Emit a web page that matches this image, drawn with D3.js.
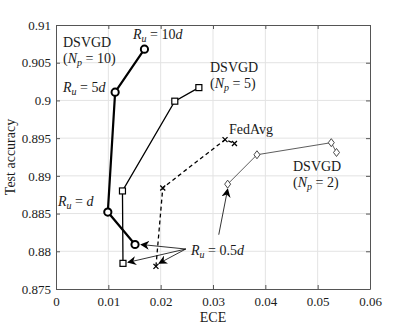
<!DOCTYPE html>
<html>
<head>
<meta charset="utf-8">
<script src="https://cdn.jsdelivr.net/npm/d3@7"></script>
<style>
  body { margin: 0; background: #fff; }
</style>
</head>
<body>
<svg id="chart"></svg>
<script>
// R_u settings for each series: 0.5d, d, 5d, 10d
const ruLabels = ["0.5d", "d", "5d", "10d"];

const eceNp10 = [0.0151, 0.0099, 0.0113, 0.0169];
const accNp10 = [0.8809, 0.8852, 0.9011, 0.9068];

const eceNp5 = [0.0128, 0.0127, 0.0227, 0.0273];
const accNp5 = [0.8784, 0.8880, 0.8999, 0.9017];

const eceFedAvg = [0.0191, 0.0204, 0.0323, 0.0341];
const accFedAvg = [0.8780, 0.8884, 0.8948, 0.8943];

const eceNp2 = [0.0328, 0.0384, 0.0526, 0.0536];
const accNp2 = [0.8889, 0.8928, 0.8944, 0.8931];

const xTicks = [0, 0.01, 0.02, 0.03, 0.04, 0.05, 0.06];
const yTicks = [0.875, 0.88, 0.885, 0.89, 0.895, 0.9, 0.905, 0.91];

const FONT = "'Liberation Serif', 'DejaVu Serif', serif";
const width = 409, height = 328;
const margin = { top: 25, right: 39, bottom: 39, left: 56 };
const innerWidth = width - margin.left - margin.right;
const innerHeight = height - margin.top - margin.bottom;

const svg = d3.select("#chart").attr("width", width).attr("height", height)
    .attr("font-family", FONT);
svg.append("defs").append("marker")
    .attr("id", "arrow")
    .attr("viewBox", "0 0 10 10")
    .attr("refX", 9).attr("refY", 5)
    .attr("markerWidth", 9).attr("markerHeight", 9)
    .attr("markerUnits", "userSpaceOnUse")
    .attr("orient", "auto")
    .append("path")
    .attr("d", "M0,0 L10,5 L0,10 L3,5 Z")
    .attr("fill", "#000");

const g = svg.append("g").attr("transform", `translate(${margin.left},${margin.top})`);

const x = d3.scaleLinear().domain([0, 0.06]).range([0, innerWidth]);
const y = d3.scaleLinear().domain([0.875, 0.91]).range([innerHeight, 0]);

// grid
g.append("g").selectAll("line").data(xTicks.slice(1, -1)).join("line")
    .attr("x1", d => x(d)).attr("x2", d => x(d))
    .attr("y1", 0).attr("y2", innerHeight)
    .attr("stroke", "#e3e3e3").attr("stroke-width", 1);
g.append("g").selectAll("line").data(yTicks.slice(1, -1)).join("line")
    .attr("y1", d => y(d)).attr("y2", d => y(d))
    .attr("x1", 0).attr("x2", innerWidth)
    .attr("stroke", "#e3e3e3").attr("stroke-width", 1);

// axes (ticks pointing inward, box on all sides)
const fmt = d => String(+d.toFixed(3));
const axisStyle = sel => {
    sel.attr("font-family", FONT).attr("font-size", 13);
    sel.select(".domain").attr("stroke", "#555");
    sel.selectAll(".tick line").attr("stroke", "#555");
    sel.selectAll(".tick text").attr("fill", "#1a1a1a");
};
g.append("g").attr("transform", `translate(0,${innerHeight})`)
    .call(d3.axisBottom(x).tickValues(xTicks).tickFormat(fmt).tickSizeInner(-4).tickSizeOuter(0).tickPadding(8))
    .call(axisStyle);
g.append("g")
    .call(d3.axisLeft(y).tickValues(yTicks).tickFormat(fmt).tickSizeInner(-4).tickSizeOuter(0).tickPadding(5))
    .call(axisStyle);
g.append("g")
    .call(d3.axisTop(x).tickValues(xTicks).tickFormat("").tickSizeInner(-4).tickSizeOuter(0))
    .call(axisStyle);
g.append("g").attr("transform", `translate(${innerWidth},0)`)
    .call(d3.axisRight(y).tickValues(yTicks).tickFormat("").tickSizeInner(-4).tickSizeOuter(0))
    .call(axisStyle);

// series
const series = [
    { name: "np10", ece: eceNp10, acc: accNp10, width: 2.2, dash: null, marker: "circle", color: "#000" },
    { name: "np5", ece: eceNp5, acc: accNp5, width: 1.3, dash: null, marker: "square", color: "#000" },
    { name: "fedavg", ece: eceFedAvg, acc: accFedAvg, width: 1.3, dash: "4,3", marker: "cross", color: "#000" },
    { name: "np2", ece: eceNp2, acc: accNp2, width: 0.8, dash: null, marker: "diamond", color: "#333" }
];

const line = d3.line().x(d => x(d[0])).y(d => y(d[1]));

series.forEach(s => {
    const pts = s.ece.map((e, i) => [e, s.acc[i], ruLabels[i]]);
    g.append("path").datum(pts)
        .attr("d", line)
        .attr("fill", "none")
        .attr("stroke", s.color)
        .attr("stroke-width", s.width)
        .attr("stroke-dasharray", s.dash);

    const m = g.append("g").selectAll("g").data(pts).join("g")
        .attr("transform", d => `translate(${x(d[0])},${y(d[1])})`);
    if (s.marker === "circle") {
        m.append("circle").attr("r", 3.6).attr("fill", "#fff").attr("stroke", s.color).attr("stroke-width", 2);
    } else if (s.marker === "square") {
        m.append("rect").attr("x", -3).attr("y", -3).attr("width", 6).attr("height", 6)
            .attr("fill", "#fff").attr("stroke", s.color).attr("stroke-width", 1.2);
    } else if (s.marker === "diamond") {
        m.append("path").attr("d", "M0,-4L3,0L0,4L-3,0Z")
            .attr("fill", "#fff").attr("stroke", s.color).attr("stroke-width", 0.9);
    } else {
        m.append("path").attr("d", "M-2.5,-2.5L2.5,2.5M-2.5,2.5L2.5,-2.5")
            .attr("stroke", s.color).attr("stroke-width", 1.3);
    }
});

// annotations: R_u = 0.5d arrows
const arrowFrom = [0.0248, 0.8803];
const targets = [
    [eceNp10[0], accNp10[0], 6, 0],
    [eceNp5[0], accNp5[0], 5, -1],
    [eceFedAvg[0], accFedAvg[0], 3, -3]
];
targets.forEach(t => {
    g.append("line")
        .attr("x1", x(arrowFrom[0])).attr("y1", y(arrowFrom[1]))
        .attr("x2", x(t[0]) + t[2]).attr("y2", y(t[1]) + t[3])
        .attr("stroke", "#000").attr("stroke-width", 0.8)
        .attr("marker-end", "url(#arrow)");
});
g.append("line")
    .attr("x1", x(0.0311)).attr("y1", y(0.8822))
    .attr("x2", x(eceNp2[0])).attr("y2", y(accNp2[0]) + 5)
    .attr("stroke", "#000").attr("stroke-width", 0.8)
    .attr("marker-end", "url(#arrow)");

// math-style labels
function label(px, py) {
    return svg.append("text").attr("x", px).attr("y", py)
        .attr("font-family", FONT).attr("font-size", 14).attr("fill", "#1a1a1a");
}
function ruText(px, py, num) {
    const t = label(px, py);
    t.append("tspan").attr("font-style", "italic").text("R");
    t.append("tspan").attr("font-style", "italic").attr("font-size", 10).attr("dy", 3).text("u");
    t.append("tspan").attr("dy", -3).text(" = " + num);
    t.append("tspan").attr("font-style", "italic").text("d");
}
function npText(px, py, n) {
    const t = label(px, py);
    t.append("tspan").text("(");
    t.append("tspan").attr("font-style", "italic").text("N");
    t.append("tspan").attr("font-style", "italic").attr("font-size", 10).attr("dy", 3).text("p");
    t.append("tspan").attr("dy", -3).text(" = " + n + ")");
}

ruText(133, 39, "10");
ruText(63, 92, "5");
ruText(58, 206, "");
ruText(191, 255, "0.5");

label(63, 47).text("DSVGD");
npText(63, 63, 10);
label(210, 72).text("DSVGD");
npText(210, 88, 5);
label(229, 134).text("FedAvg");
label(293, 171).text("DSVGD");
npText(293, 187, 2);

// axis titles
label(margin.left + innerWidth / 2, 322).attr("text-anchor", "middle").text("ECE");
svg.append("text").attr("transform", `translate(15,${margin.top + innerHeight / 2}) rotate(-90)`)
    .attr("font-family", FONT).attr("font-size", 14).attr("fill", "#1a1a1a")
    .attr("text-anchor", "middle").text("Test accuracy");
</script>
</body>
</html>
